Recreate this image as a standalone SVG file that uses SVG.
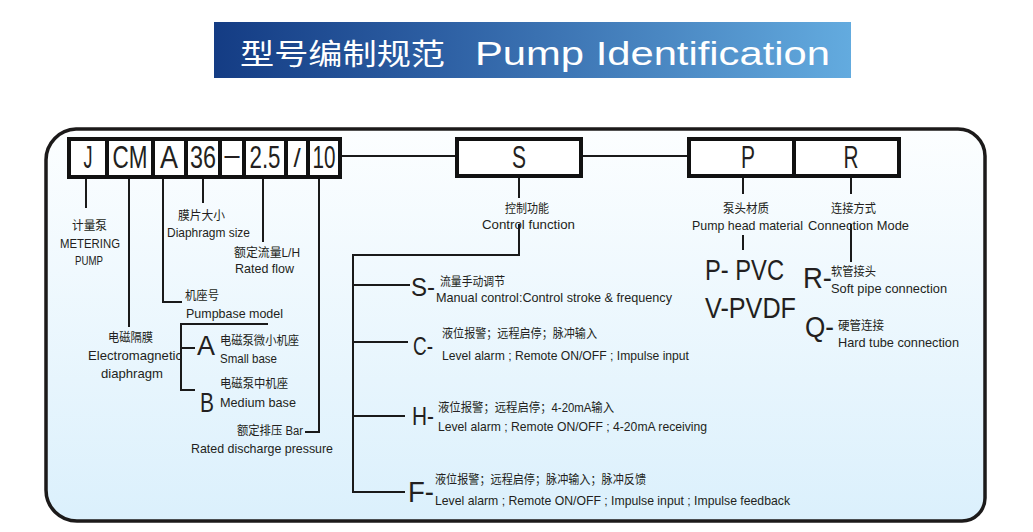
<svg xmlns="http://www.w3.org/2000/svg" width="1033" height="532" viewBox="0 0 1033 532">
<defs>
<linearGradient id="gBanner" x1="0" y1="0" x2="1" y2="0">
<stop offset="0" stop-color="#143c84"/>
<stop offset="0.35" stop-color="#2d5fa3"/>
<stop offset="0.7" stop-color="#4a87c2"/>
<stop offset="1" stop-color="#63abdf"/>
</linearGradient>
<linearGradient id="gFrame" x1="0" y1="0" x2="0" y2="1">
<stop offset="0" stop-color="#fcfeff"/>
<stop offset="1" stop-color="#dbf0fc"/>
</linearGradient>
<style>
.t{font-family:"Liberation Sans","Noto Sans CJK SC",sans-serif;fill:#231f20}
.sm{font-size:13px}
.cn{font-size:12.5px}
.mid{font-size:26px}
.big{font-size:30px}
.box{font-size:32px}
.ln{fill:none;stroke:#1a1a1a;stroke-width:2}
.cell{fill:#ffffff;stroke:#111;stroke-width:4}
</style>
</defs>
<rect width="1033" height="532" fill="#ffffff"/>

<g id="title">
<rect x="214" y="22" width="637" height="56" fill="url(#gBanner)"/>
<text x="240" y="65" font-family="'Noto Sans CJK SC',sans-serif" font-size="29" fill="#ffffff" textLength="205" lengthAdjust="spacingAndGlyphs">型号编制规范</text>
<text x="475" y="65" font-family="'Liberation Sans',sans-serif" font-size="34" fill="#ffffff" textLength="355" lengthAdjust="spacingAndGlyphs">Pump Identification</text>
</g>

<g id="frame">
<path d="M76 129 H958 A27 27 0 0 1 985 156 V498 A23 23 0 0 1 962 521 H77 A31 31 0 0 1 46 490 V160 A31 31 0 0 1 76 129 Z" fill="url(#gFrame)" stroke="#1c1a1a" stroke-width="3.5"/>
</g>

<g id="connectors">
<path class="ln" d="M340 156 H455"/>
<path class="ln" d="M583 156 H687"/>
<path class="ln" d="M86 178 V208"/>
<path class="ln" d="M129 178 V327"/>
<path class="ln" d="M163 178 V302 H182"/>
<path class="ln" d="M203 178 V203"/>
<path class="ln" d="M263 178 V242"/>
<path class="ln" d="M319 178 V432 H305"/>
<path class="ln" d="M268 324 H181 V390 H195 M181 348 H195"/>
<path class="ln" d="M519 177 V198"/>
<path class="ln" d="M519 224 V255 H353 V492 H405 M353 285 H410 M353 342 H408 M353 416 H405"/>
<path class="ln" d="M743 177 V194"/>
<path class="ln" d="M743 235 V250"/>
<path class="ln" d="M851 177 V194"/>
<path class="ln" d="M851 224 V262"/>
</g>

<g id="node-code">
<rect class="cell" x="69" y="139" width="271" height="38"/>
<path d="M107 139 V177 M153 139 V177 M186 139 V177 M220 139 V177 M244 139 V177 M286 139 V177 M308 139 V177" stroke="#111" stroke-width="4"/>
<g class="t box" text-anchor="middle">
<text x="88" y="168" textLength="9" lengthAdjust="spacingAndGlyphs">J</text>
<text x="130" y="168" textLength="35" lengthAdjust="spacingAndGlyphs">CM</text>
<text x="169" y="168" textLength="18" lengthAdjust="spacingAndGlyphs">A</text>
<text x="203" y="168" textLength="26" lengthAdjust="spacingAndGlyphs">36</text>
<text x="232" y="165" textLength="15" lengthAdjust="spacingAndGlyphs">–</text>
<text x="265" y="168" textLength="31" lengthAdjust="spacingAndGlyphs">2.5</text>
<text x="297" y="167" font-size="26">/</text>
<text x="324" y="168" textLength="23" lengthAdjust="spacingAndGlyphs">10</text>
</g>
</g>

<g id="node-S">
<rect class="cell" x="457" y="139" width="124" height="37"/>
<text class="t box" x="519" y="168" text-anchor="middle" textLength="14" lengthAdjust="spacingAndGlyphs">S</text>
</g>

<g id="node-PR">
<rect class="cell" x="689" y="139" width="210" height="37"/>
<path d="M794 139 V176" stroke="#111" stroke-width="4"/>
<text class="t box" x="748" y="168" text-anchor="middle" textLength="14" lengthAdjust="spacingAndGlyphs">P</text>
<text class="t box" x="851" y="168" text-anchor="middle" textLength="15" lengthAdjust="spacingAndGlyphs">R</text>
</g>

<g id="label-J" class="t">
<text class="cn" x="72" y="230" textLength="35" lengthAdjust="spacingAndGlyphs">计量泵</text>
<text class="sm" x="60" y="248" textLength="60" lengthAdjust="spacingAndGlyphs">METERING</text>
<text class="sm" x="75" y="265" textLength="28" lengthAdjust="spacingAndGlyphs">PUMP</text>
</g>

<g id="label-36" class="t">
<text class="cn" x="178" y="220" textLength="47" lengthAdjust="spacingAndGlyphs">膜片大小</text>
<text class="sm" x="167" y="237" textLength="83" lengthAdjust="spacingAndGlyphs">Diaphragm size</text>
</g>

<g id="label-flow" class="t">
<text class="cn" x="234" y="257" textLength="66" lengthAdjust="spacingAndGlyphs">额定流量L/H</text>
<text class="sm" x="235" y="273" textLength="59" lengthAdjust="spacingAndGlyphs">Rated flow</text>
</g>

<g id="label-base" class="t">
<text class="cn" x="185" y="300" textLength="34" lengthAdjust="spacingAndGlyphs">机座号</text>
<text class="sm" x="186" y="318" textLength="97" lengthAdjust="spacingAndGlyphs">Pumpbase model</text>
</g>

<g id="label-CM" class="t">
<text class="cn" x="108" y="342" textLength="45" lengthAdjust="spacingAndGlyphs">电磁隔膜</text>
<text class="sm" x="88" y="360" textLength="94" lengthAdjust="spacingAndGlyphs">Electromagnetic</text>
<text class="sm" x="101" y="378" textLength="62" lengthAdjust="spacingAndGlyphs">diaphragm</text>
</g>

<g id="option-A" class="t">
<text x="197" y="355" font-size="28" textLength="18" lengthAdjust="spacingAndGlyphs">A</text>
<text class="cn" x="220" y="345" textLength="79" lengthAdjust="spacingAndGlyphs">电磁泵微小机座</text>
<text class="sm" x="220" y="363" textLength="57" lengthAdjust="spacingAndGlyphs">Small base</text>
</g>

<g id="option-B" class="t">
<text x="200" y="412" font-size="28" textLength="14" lengthAdjust="spacingAndGlyphs">B</text>
<text class="cn" x="220" y="388" textLength="68" lengthAdjust="spacingAndGlyphs">电磁泵中机座</text>
<text class="sm" x="220" y="407" textLength="76" lengthAdjust="spacingAndGlyphs">Medium base</text>
</g>

<g id="label-pressure" class="t">
<text class="cn" x="237" y="435" textLength="66" lengthAdjust="spacingAndGlyphs">额定排压 Bar</text>
<text class="sm" x="191" y="453" textLength="142" lengthAdjust="spacingAndGlyphs">Rated discharge pressure</text>
</g>

<g id="label-control" class="t">
<text class="cn" x="505" y="213" textLength="44" lengthAdjust="spacingAndGlyphs">控制功能</text>
<text class="sm" x="482" y="229" textLength="93" lengthAdjust="spacingAndGlyphs">Control function</text>
</g>

<g id="option-S" class="t">
<text class="mid" x="411" y="296" textLength="24" lengthAdjust="spacingAndGlyphs">S-</text>
<text class="cn" x="440" y="286" textLength="65" lengthAdjust="spacingAndGlyphs">流量手动调节</text>
<text class="sm" x="436" y="302" textLength="236" lengthAdjust="spacingAndGlyphs">Manual control:Control stroke &amp; frequency</text>
</g>

<g id="option-C" class="t">
<text class="mid" x="413" y="355" textLength="20" lengthAdjust="spacingAndGlyphs">C-</text>
<text class="cn" x="442" y="338" textLength="155" lengthAdjust="spacingAndGlyphs">液位报警；远程启停；脉冲输入</text>
<text class="sm" x="442" y="360" textLength="247" lengthAdjust="spacingAndGlyphs">Level alarm ; Remote ON/OFF ; Impulse input</text>
</g>

<g id="option-H" class="t">
<text class="mid" x="412" y="425" textLength="22" lengthAdjust="spacingAndGlyphs">H-</text>
<text class="cn" x="438" y="412" textLength="176" lengthAdjust="spacingAndGlyphs">液位报警；远程启停；4-20mA输入</text>
<text class="sm" x="438" y="431" textLength="269" lengthAdjust="spacingAndGlyphs">Level alarm ; Remote ON/OFF ; 4-20mA receiving</text>
</g>

<g id="option-F" class="t">
<text x="408" y="502" font-size="29" textLength="26" lengthAdjust="spacingAndGlyphs">F-</text>
<text class="cn" x="435" y="484" textLength="211" lengthAdjust="spacingAndGlyphs">液位报警；远程启停；脉冲输入；脉冲反馈</text>
<text class="sm" x="435" y="505" textLength="355" lengthAdjust="spacingAndGlyphs">Level alarm ; Remote ON/OFF ; Impulse input ; Impulse feedback</text>
</g>

<g id="label-material" class="t">
<text class="cn" x="723" y="213" textLength="46" lengthAdjust="spacingAndGlyphs">泵头材质</text>
<text class="sm" x="692" y="230" textLength="111" lengthAdjust="spacingAndGlyphs">Pump head material</text>
</g>

<g id="label-connection" class="t">
<text class="cn" x="831" y="213" textLength="45" lengthAdjust="spacingAndGlyphs">连接方式</text>
<text class="sm" x="808" y="230" textLength="101" lengthAdjust="spacingAndGlyphs">Connection Mode</text>
</g>

<g id="option-P" class="t">
<text class="big" x="705" y="280" textLength="79" lengthAdjust="spacingAndGlyphs">P- PVC</text>
</g>

<g id="option-V" class="t">
<text class="big" x="705" y="318" textLength="91" lengthAdjust="spacingAndGlyphs">V-PVDF</text>
</g>

<g id="option-R" class="t">
<text class="big" x="803" y="288" textLength="29" lengthAdjust="spacingAndGlyphs">R-</text>
<text class="cn" x="831" y="276" textLength="45" lengthAdjust="spacingAndGlyphs">软管接头</text>
<text class="sm" x="831" y="293" textLength="116" lengthAdjust="spacingAndGlyphs">Soft pipe connection</text>
</g>

<g id="option-Q" class="t">
<text class="big" x="805" y="337" textLength="29" lengthAdjust="spacingAndGlyphs">Q-</text>
<text class="cn" x="838" y="330" textLength="46" lengthAdjust="spacingAndGlyphs">硬管连接</text>
<text class="sm" x="838" y="347" textLength="121" lengthAdjust="spacingAndGlyphs">Hard tube connection</text>
</g>
</svg>
